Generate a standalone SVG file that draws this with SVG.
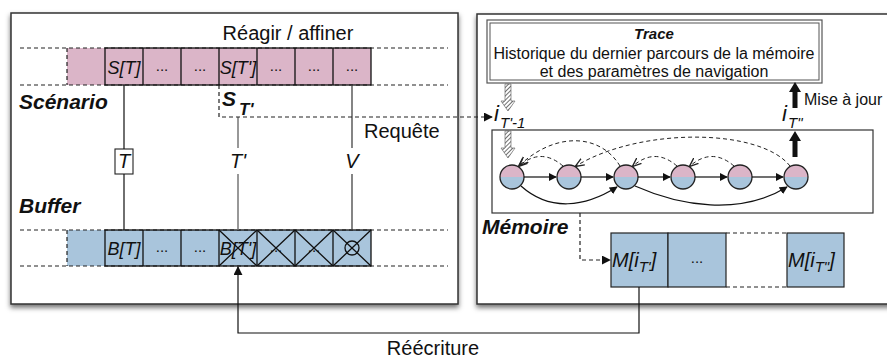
<svg xmlns="http://www.w3.org/2000/svg" width="887" height="358" viewBox="0 0 887 358">
<style>
text{font-family:"Liberation Sans",Arial,sans-serif;fill:#111}
.lbl{font-size:21px;font-weight:bold;font-style:italic}
.cell{font-size:18px;font-style:italic}
.dots{font-size:15px}
.big{font-size:20px}
.panel{fill:#fff;stroke:#333;stroke-width:1.5}
.dash{fill:none;stroke:#222;stroke-width:1.2;stroke-dasharray:4 3}
.solid{fill:none;stroke:#111;stroke-width:1.3}
.pink{fill:#dbb5c8}
.blue{fill:#a9c5dc}
.edge{fill:none;stroke:#111;stroke-width:1.2}
.back{fill:none;stroke:#222;stroke-width:1;stroke-dasharray:4 3}
</style>
<defs>
<filter id="sh" x="-5%" y="-5%" width="110%" height="115%">
<feDropShadow dx="0" dy="3" stdDeviation="2.5" flood-color="#000" flood-opacity="0.55"/>
</filter>
<marker id="ah" viewBox="0 0 10 10" refX="9" refY="5" markerWidth="9" markerHeight="9" markerUnits="userSpaceOnUse" orient="auto">
<path d="M0,0 L10,5 L0,10 Z" fill="#111"/>
</marker>
<marker id="ahs" viewBox="0 0 10 10" refX="9" refY="5" markerWidth="8" markerHeight="8" markerUnits="userSpaceOnUse" orient="auto">
<path d="M0,0 L10,5 L0,10 Z" fill="#111"/>
</marker>
<marker id="aho" viewBox="0 0 10 10" refX="9" refY="5" markerWidth="9" markerHeight="9" markerUnits="userSpaceOnUse" orient="auto">
<path d="M0,1 L10,5 L0,9" fill="none" stroke="#222" stroke-width="1.5"/>
</marker>
<pattern id="hatch" width="3" height="3" patternUnits="userSpaceOnUse" patternTransform="rotate(45)">
<rect width="3" height="3" fill="#fff"/>
<line x1="0" y1="0" x2="0" y2="3" stroke="#333" stroke-width="1.4"/>
</pattern>
<g id="nd">
<path d="M-12,0 A12,12 0 0 1 12,0 Z" class="pink"/>
<path d="M-12,0 A12,12 0 0 0 12,0 Z" class="blue"/>
<circle r="12" fill="none" stroke="#222" stroke-width="1.3"/>
</g>
<path id="hatchArrow" d="M-3,0 L3,0 L3,17 L7,17 L0,27 L-7,17 L-3,17 Z" fill="url(#hatch)" stroke="#555" stroke-width="0.6"/>
<path id="thickArrow" d="M-2.5,0 L2.5,0 L2.5,-16 L6,-16 L0,-26 L-6,-16 L-2.5,-16 Z" fill="#111"/>
</defs>

<!-- Panels -->
<g id="panel-left">
<rect x="11" y="13" width="447" height="291" class="panel" filter="url(#sh)"/>
</g>
<g id="panel-right">
<rect x="477" y="14" width="430" height="290" class="panel" filter="url(#sh)"/>
</g>

<!-- Scenario row -->
<g id="scenario">
<rect x="67" y="48" width="38" height="37" class="pink"/>
<rect x="105" y="48" width="266" height="37" class="pink"/>
<line x1="20" y1="48" x2="448" y2="48" class="dash"/>
<line x1="20" y1="85" x2="448" y2="85" class="dash"/>
<line x1="67" y1="48" x2="67" y2="85" class="dash"/>
<rect x="105" y="48" width="266" height="37" class="solid"/>
<path d="M143,48V85M181,48V85M219,48V85M257,48V85M295,48V85M333,48V85" class="solid"/>
<text class="cell" x="124" y="74" text-anchor="middle">S[T]</text>
<text class="dots" x="162" y="71" text-anchor="middle">...</text>
<text class="dots" x="200" y="71" text-anchor="middle">...</text>
<text class="cell" x="238" y="74" text-anchor="middle">S[T']</text>
<text class="dots" x="276" y="71" text-anchor="middle">...</text>
<text class="dots" x="314" y="71" text-anchor="middle">...</text>
<text class="dots" x="352" y="71" text-anchor="middle">...</text>
<text class="lbl" x="19" y="109">Scénario</text>
<text class="big" x="288" y="40" text-anchor="middle">Réagir / affiner</text>
</g>

<!-- S_T' -->
<g id="s-tprime">
<text x="222" y="106" style="font-size:21px;font-weight:bold;font-style:italic">S</text>
<text x="239" y="115" style="font-size:17px;font-weight:bold;font-style:italic">T'</text>
</g>

<!-- Buffer row -->
<g id="buffer">
<rect x="67" y="230" width="304" height="36" class="blue"/>
<line x1="20" y1="230" x2="448" y2="230" class="dash"/>
<line x1="20" y1="266" x2="448" y2="266" class="dash"/>
<line x1="67" y1="230" x2="67" y2="266" class="dash"/>
<rect x="105" y="230" width="266" height="36" class="solid"/>
<path d="M143,230V266M181,230V266M219,230V266M257,230V266M295,230V266M333,230V266" class="solid"/>
<text class="cell" x="124" y="255" text-anchor="middle">B[T]</text>
<text class="dots" x="162" y="252" text-anchor="middle">...</text>
<text class="dots" x="200" y="252" text-anchor="middle">...</text>
<text class="cell" x="238" y="255" text-anchor="middle">B[T']</text>
<text class="dots" x="276" y="252" text-anchor="middle">...</text>
<text class="dots" x="314" y="252" text-anchor="middle">...</text>
<path d="M219,230L257,266M257,230L219,266M257,230L295,266M295,230L257,266M295,230L333,266M333,230L295,266M333,230L371,266M371,230L333,266" class="solid" stroke-width="1"/>
<circle cx="352" cy="248" r="7" class="solid"/>
<text class="lbl" x="19" y="213">Buffer</text>
</g>

<!-- Trace box -->
<g id="trace">
<rect x="487" y="20" width="335" height="63" fill="#fff" stroke="#555" stroke-width="1.2"/>
<rect x="490" y="23" width="329" height="57" fill="none" stroke="#555" stroke-width="1"/>
<text x="654" y="39" text-anchor="middle" style="font-size:15px;font-weight:bold;font-style:italic">Trace</text>
<text x="654" y="59" text-anchor="middle" style="font-size:16px">Historique du dernier parcours de la mémoire</text>
<text x="654" y="77" text-anchor="middle" style="font-size:16px">et des paramètres de navigation</text>
</g>

<!-- Memory box -->
<g id="memoire">
<rect x="492" y="130" width="381" height="83" fill="#fff" stroke="#333" stroke-width="1.2"/>
<text class="lbl" x="482" y="234">Mémoire</text>
</g>

<g id="n1" transform="translate(512,177)"><use href="#nd"/></g>
<g id="n2" transform="translate(569,177)"><use href="#nd"/></g>
<g id="n3" transform="translate(626,177)"><use href="#nd"/></g>
<g id="n4" transform="translate(683,177)"><use href="#nd"/></g>
<g id="n5" transform="translate(740,177)"><use href="#nd"/></g>
<g id="n6" transform="translate(796,177)"><use href="#nd"/></g>

<!-- M boxes -->
<g id="m-boxes">
<rect x="611" y="233" width="57" height="54" class="blue" stroke="#222" stroke-width="1.2"/>
<rect x="668" y="233" width="58" height="54" class="blue" stroke="#222" stroke-width="1.2"/>
<path d="M726,233H787M726,287H787" class="dash"/>
<rect x="787" y="233" width="57" height="54" class="blue" stroke="#222" stroke-width="1.2"/>
<text x="612" y="267" style="font-size:20px;font-style:italic">M[i<tspan dy="5" font-size="15">T'</tspan><tspan dy="-5">]</tspan></text>
<text class="dots" x="697" y="263" text-anchor="middle">...</text>
<text x="788" y="267" style="font-size:20px;font-style:italic">M[i<tspan dy="5" font-size="15">T"</tspan><tspan dy="-5">]</tspan></text>
</g>

<!-- labels -->
<g id="labels">
<text x="494" y="121" style="font-size:22px;font-style:italic">i</text>
<text x="500" y="128" style="font-size:15px;font-style:italic">T'-1</text>
<text x="782" y="121" style="font-size:22px;font-style:italic">i</text>
<text x="788" y="128" style="font-size:15px;font-style:italic">T"</text>
<text x="804" y="105" style="font-size:16px">Mise à jour</text>
<text class="big" x="364" y="138">Requête</text>
<text class="big" x="433" y="355" text-anchor="middle">Réécriture</text>
<rect x="115" y="149" width="18" height="25" fill="#fff" stroke="#222" stroke-width="1.1"/>
<text x="124" y="168" text-anchor="middle" style="font-size:20px;font-style:italic">T</text>
<text x="238" y="168" text-anchor="middle" style="font-size:20px;font-style:italic">T'</text>
<text x="352" y="168" text-anchor="middle" style="font-size:20px;font-style:italic">V</text>
</g>

<!-- Connectors -->
<g id="connectors">
<path d="M124,85V149M124,174V230" stroke="#111" stroke-width="1.2" fill="none"/>
<path d="M238,117V148M238,174V230" stroke="#777" stroke-width="1.5" fill="none"/>
<path d="M352,85V148M352,174V230" stroke="#444" stroke-width="1.3" fill="none"/>
<path d="M219,85V117H492" class="dash" marker-end="url(#ah)"/>
<path d="M639,287V333H238V267" class="edge" stroke-width="1.5" marker-end="url(#ah)"/>
<path d="M580,213V260H610" class="dash" marker-end="url(#ah)"/>
<use href="#hatchArrow" x="508" y="84"/>
<use href="#hatchArrow" x="508" y="131"/>
<use href="#thickArrow" x="795" y="108"/>
<use href="#thickArrow" x="795" y="157"/>
<!-- forward -->
<path d="M524,177H556" class="edge" marker-end="url(#ahs)"/>
<path d="M581,177H613" class="edge" marker-end="url(#ahs)"/>
<path d="M638,177H670" class="edge" marker-end="url(#ahs)"/>
<path d="M695,177H727" class="edge" marker-end="url(#ahs)"/>
<path d="M752,177H783" class="edge" marker-end="url(#ahs)"/>
<path d="M521,186C550,212 585,207 617,187" class="edge" marker-end="url(#ahs)"/>
<path d="M635,186C680,206 740,216 787,187" class="edge" marker-end="url(#ahs)"/>
<!-- backward -->
<path d="M563,166Q541,147 519,166" class="back" marker-end="url(#aho)"/>
<path d="M620,166C600,133 555,132 520,165" class="back" marker-end="url(#aho)"/>
<path d="M790,166C760,128 640,127 576,166" class="back" marker-end="url(#aho)"/>
<path d="M677,166Q655,147 633,166" class="back" marker-end="url(#aho)"/>
<path d="M734,166Q712,147 690,166" class="back" marker-end="url(#aho)"/>
</g>
</svg>
